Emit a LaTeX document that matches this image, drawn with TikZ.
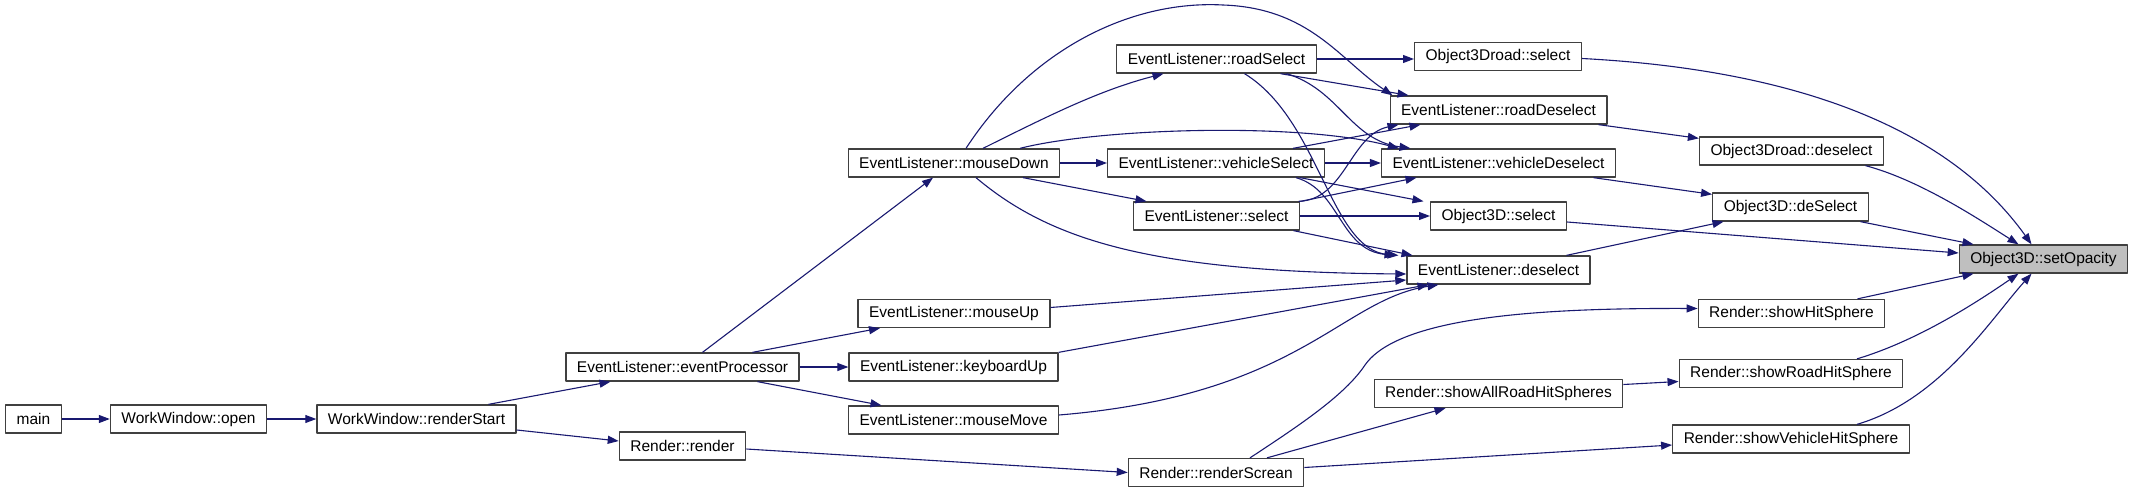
\documentclass[tikz,border=0pt]{standalone}
\usepackage{fontspec}
\setmainfont{Liberation Sans}
\usetikzlibrary{arrows.meta}
\definecolor{edgeblue}{HTML}{191970}
\definecolor{markgray}{HTML}{BFBFBF}
\begin{document}
\begin{tikzpicture}[x=1pt,y=-1pt,line join=round,
	fn/.style={draw=black!75,line width=1.3pt,fill=white,inner xsep=11pt,inner ysep=0pt,minimum height=28pt,font=\fontsize{15.5}{18}\selectfont},
	call/.style={draw=edgeblue,line width=1.1pt,-{Triangle[length=11pt,width=8pt]}}]
				\useasboundingbox (0,0) rectangle (2135,492);
				\node[fn] (main) at (33.5,419) {main};
				\node[fn] (wwopen) at (188.5,419) {WorkWindow::open};
				\node[fn] (wwstart) at (416.5,419) {WorkWindow::renderStart};
				\node[fn] (evproc) at (682.5,367) {EventListener::eventProcessor};
				\node[fn] (render) at (682.5,446) {Render::render};
				\node[fn] (mdown) at (954,163) {EventListener::mouseDown};
				\node[fn] (mup) at (954,313.5) {EventListener::mouseUp};
				\node[fn] (kbup) at (953.5,367) {EventListener::keyboardUp};
				\node[fn] (mmove) at (953.5,420) {EventListener::mouseMove};
				\node[fn] (rsel) at (1216.5,59) {EventListener::roadSelect};
				\node[fn] (vsel) at (1216,163) {EventListener::vehicleSelect};
				\node[fn] (sel) at (1216.5,216) {EventListener::select};
				\node[fn] (rscrean) at (1216,472.5) {Render::renderScrean};
				\node[fn] (o3rsel) at (1498,56.5) {Object3Droad::select};
				\node[fn] (rdesel) at (1498.5,110) {EventListener::roadDeselect};
				\node[fn] (vdesel) at (1498.5,163) {EventListener::vehicleDeselect};
				\node[fn] (o3sel) at (1498.5,216) {Object3D::select};
				\node[fn] (desel) at (1498.5,270) {EventListener::deselect};
				\node[fn] (allhit) at (1498.5,393.5) {Render::showAllRoadHitSpheres};
				\node[fn] (o3rdesel) at (1791.5,151) {Object3Droad::deselect};
				\node[fn] (o3desel) at (1790.5,207) {Object3D::deSelect};
				\node[fn] (hit) at (1791.5,313.5) {Render::showHitSphere};
				\node[fn] (roadhit) at (1791,373.5) {Render::showRoadHitSphere};
				\node[fn] (vehhit) at (1791,439) {Render::showVehicleHitSphere};
				\node[fn,fill=markgray] (opac) at (2043.5,259) {Object3D::setOpacity};
				\draw[call] (main) -- (wwopen);
				\draw[call] (wwopen) -- (wwstart);
				\draw[call] ([xshift=72pt]wwstart.north) -- ([xshift=-72pt]evproc.south);
				\draw[call] ([yshift=-11pt]wwstart.east) -- ([yshift=5pt]render.west);
				\draw[call] ([xshift=20pt]evproc.north) -- ([xshift=-21pt]mdown.south);
				\draw[call] ([xshift=70pt]evproc.north) -- ([xshift=-74pt]mup.south);
				\draw[call] (evproc) -- (kbup);
				\draw[call] ([xshift=75pt]evproc.south) -- ([xshift=-72pt]mmove.north);
				\draw[call] ([yshift=-3pt]render.east) -- (rscrean.west);
				\draw[call] ([xshift=29pt]mdown.north) .. controls (1050,115) and (1100,90) .. ([xshift=-53pt]rsel.south);
				\draw[call] (mdown) -- (vsel);
				\draw[call] ([xshift=69pt]mdown.south) -- ([xshift=-70pt]sel.north);
				\draw[call] ([xshift=12pt]mdown.north) .. controls (1030,50) and (1130,0) .. (1223,5) .. controls (1310,8) and (1340,60) .. ([xshift=3pt]rdesel.north west);
				\draw[call] ([xshift=66pt]mdown.north) .. controls (1100,128) and (1300,122) .. ([xshift=18pt]vdesel.north west);
				\draw[call] ([xshift=22pt]mdown.south) .. controls (1050,240) and (1150,272) .. ([yshift=-4pt]desel.west);
				\draw[call] (rsel.east) -- (rsel.east -| o3rsel.west);
				\draw[call] ([xshift=64pt]rsel.south) -- ([xshift=-90pt]rdesel.north);
				\draw[call] ([xshift=70pt]rsel.south) .. controls (1340,90) and (1350,140) .. ([xshift=-88pt]vdesel.north);
				\draw[call] ([xshift=28pt]rsel.south) .. controls (1320,120) and (1330,250) .. ([xshift=-100pt]desel.north);
				\draw[call] ([xshift=77pt]vsel.north) -- ([xshift=-78pt]rdesel.south);
				\draw[call] (vsel) -- (vdesel);
				\draw[call] ([xshift=84pt]vsel.south) -- ([xshift=-75pt]o3sel.north);
				\draw[call] ([xshift=80pt]vsel.south) .. controls (1340,190) and (1340,250) .. ([xshift=-103pt]desel.north);
				\draw[call] ([xshift=82pt]sel.north) .. controls (1345,200) and (1350,135) .. ([xshift=-100pt]rdesel.south);
				\draw[call] ([xshift=84pt]sel.north) -- ([xshift=-82pt]vdesel.south);
				\draw[call] (sel) -- (o3sel);
				\draw[call] ([xshift=77pt]sel.south) -- ([xshift=-86pt]desel.north);
				\draw[call] ([yshift=6pt]mup.east) -- ([yshift=-10pt]desel.west);
				\draw[call] (kbup.north east) -- ([xshift=-70pt]desel.south);
				\draw[call] ([yshift=5pt]mmove.east) .. controls (1300,395) and (1340,300) .. ([xshift=-60pt]desel.south);
				\draw[call] ([xshift=34pt]rscrean.north) .. controls (1300,425) and (1345,395) .. (1365,365) .. controls (1400,315) and (1550,308) .. ([yshift=5pt]hit.west);
				\draw[call] ([xshift=51pt]rscrean.north) -- ([xshift=-53pt]allhit.south);
				\draw[call] ([yshift=5pt]rscrean.east) -- ([yshift=-6pt]vehhit.west);
				\draw[call] ([yshift=9pt]allhit.east) -- ([yshift=-8pt]roadhit.west);
				\draw[call] ([yshift=-2pt]o3rsel.east) .. controls (1800,70) and (1950,130) .. ([xshift=-12pt]opac.north);
				\draw[call] ([xshift=100pt]rdesel.south) -- ([yshift=-2pt]o3rdesel.north west);
				\draw[call] ([xshift=95pt]vdesel.south) -- ([yshift=-2pt]o3desel.north west);
				\draw[call] ([yshift=-6pt]o3sel.east) -- ([yshift=6pt]opac.west);
				\draw[call] ([xshift=68pt]desel.north) -- ([xshift=-67pt]o3desel.south);
				\draw[call] ([xshift=74pt]o3rdesel.south) .. controls (1920,180) and (1980,220) .. ([xshift=-25pt]opac.north);
				\draw[call] ([xshift=70pt]o3desel.south) -- ([xshift=-70pt]opac.north);
				\draw[call] ([xshift=66pt]hit.north) -- ([xshift=-70pt]opac.south);
				\draw[call] ([xshift=66pt]roadhit.north) .. controls (1920,340) and (1980,300) .. ([xshift=-25pt]opac.south);
				\draw[call] ([xshift=66pt]vehhit.north) .. controls (1940,400) and (1990,320) .. ([xshift=-12pt]opac.south);
			\end{tikzpicture}
\end{document}
